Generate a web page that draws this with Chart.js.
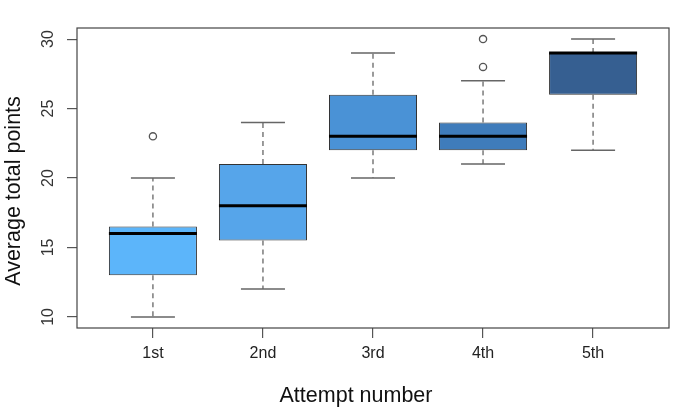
<!DOCTYPE html>
<html lang="en">
<head>
    <meta charset="UTF-8">
    <title>Average total points by attempt</title>
    <script src="https://cdn.jsdelivr.net/npm/chart.js"></script>
    <style>
        body { margin: 0; background: #fff; }
        #wrap { width: 688px; height: 410px; }
    </style>
</head>
<body>
    <div id="wrap">
        <canvas id="myChart" width="688" height="410"></canvas>
    </div>

    <script>
        // Box plot summary per attempt
        const attempts = ['1st', '2nd', '3rd', '4th', '5th'];
        const whiskerLow = [10, 12, 20, 21, 22];
        const q1 = [13, 15.5, 22, 22, 26];
        const median = [16, 18, 23, 23, 29];
        const q3 = [16.5, 21, 26, 24, 29];
        const whiskerHigh = [20, 24, 29, 27, 30];
        const outlierAttempt = [1, 4, 4];
        const outlierValue = [23, 28, 30];
        const yTicks = [10, 15, 20, 25, 30];

        const boxColors = ['#5cb5fa', '#56a5ea', '#4a92d6', '#3f7cbb', '#365f91'];
        const font = '"Liberation Sans", Arial, sans-serif';

        // whiskers, medians, frame, y labels and axis titles
        const boxplotExtras = {
            id: 'boxplotExtras',
            afterDatasetsDraw(chart) {
                const { ctx, scales: { x, y } } = chart;
                const bar = chart.getDatasetMeta(0).data;
                ctx.save();
                attempts.forEach((a, i) => {
                    const cx = x.getPixelForValue(i + 1);
                    const half = bar[i].width / 2;
                    // dashed whiskers
                    ctx.strokeStyle = '#666';
                    ctx.lineWidth = 1.3;
                    ctx.setLineDash([5, 4]);
                    ctx.beginPath();
                    ctx.moveTo(cx, y.getPixelForValue(q3[i]));
                    ctx.lineTo(cx, y.getPixelForValue(whiskerHigh[i]));
                    ctx.moveTo(cx, y.getPixelForValue(q1[i]));
                    ctx.lineTo(cx, y.getPixelForValue(whiskerLow[i]));
                    ctx.stroke();
                    // caps
                    ctx.setLineDash([]);
                    ctx.lineWidth = 1.5;
                    ctx.beginPath();
                    [whiskerHigh[i], whiskerLow[i]].forEach(v => {
                        const py = y.getPixelForValue(v);
                        ctx.moveTo(cx - half / 2, py);
                        ctx.lineTo(cx + half / 2, py);
                    });
                    ctx.stroke();
                    // median
                    ctx.strokeStyle = '#000';
                    ctx.lineWidth = 3;
                    ctx.beginPath();
                    const my = y.getPixelForValue(median[i]);
                    ctx.moveTo(cx - half, my);
                    ctx.lineTo(cx + half, my);
                    ctx.stroke();
                });
                ctx.restore();
            },
            afterDraw(chart) {
                const { ctx, chartArea: area, scales: { y } } = chart;
                ctx.save();
                // plot frame
                ctx.strokeStyle = '#444';
                ctx.lineWidth = 1.2;
                ctx.strokeRect(area.left, area.top, area.right - area.left, area.bottom - area.top);

                // rotated y tick labels
                ctx.fillStyle = '#333';
                ctx.font = '16px ' + font;
                ctx.textAlign = 'center';
                ctx.textBaseline = 'alphabetic';
                yTicks.forEach(v => {
                    ctx.save();
                    ctx.translate(53, y.getPixelForValue(v));
                    ctx.rotate(-Math.PI / 2);
                    ctx.fillText(String(v), 0, 0);
                    ctx.restore();
                });

                // axis titles
                ctx.fillStyle = '#111';
                ctx.font = '21.5px ' + font;
                ctx.fillText('Attempt number', 356, 402);
                ctx.translate(20, 191);
                ctx.rotate(-Math.PI / 2);
                ctx.fillText('Average total points', 0, 0);
                ctx.restore();
            }
        };

        const ctx = document.getElementById('myChart').getContext('2d');
        const chart = new Chart(ctx, {
            type: 'bar',
            data: {
                datasets: [{
                    type: 'bar',
                    label: 'Box',
                    data: attempts.map((a, i) => ({ x: i + 1, y: [q1[i], q3[i]] })),
                    backgroundColor: boxColors,
                    borderColor: '#333',
                    borderWidth: 1,
                    borderSkipped: false,
                    barPercentage: 0.8,
                    categoryPercentage: 1.0
                }, {
                    type: 'scatter',
                    label: 'Outliers',
                    data: outlierAttempt.map((a, i) => ({ x: a, y: outlierValue[i] })),
                    pointStyle: 'circle',
                    pointRadius: 3.6,
                    pointBorderWidth: 1.3,
                    pointBorderColor: '#555',
                    pointBackgroundColor: '#fff'
                }]
            },
            options: {
                responsive: false,
                animation: false,
                layout: { padding: { top: 28, right: 19, left: 0, bottom: 0 } },
                plugins: {
                    legend: { display: false },
                    tooltip: { enabled: false }
                },
                scales: {
                    x: {
                        type: 'linear',
                        min: 0.31,
                        max: 5.69,
                        offset: false,
                        afterBuildTicks: s => { s.ticks = attempts.map((a, i) => ({ value: i + 1 })); },
                        afterFit: s => { s.height = 82; },
                        grid: { offset: false, drawOnChartArea: false, tickLength: 10, color: '#555', lineWidth: 1.2 },
                        border: { display: false },
                        ticks: {
                            font: { family: font, size: 16 },
                            color: '#222',
                            padding: 6,
                            maxRotation: 0,
                            callback: v => attempts[v - 1]
                        }
                    },
                    y: {
                        min: 9.2,
                        max: 30.8,
                        afterBuildTicks: s => { s.ticks = yTicks.map(v => ({ value: v })); },
                        afterFit: s => { s.width = 77; },
                        grid: { drawOnChartArea: false, tickLength: 10, color: '#555', lineWidth: 1.2 },
                        border: { display: false },
                        ticks: { display: false }
                    }
                }
            },
            plugins: [boxplotExtras]
        });
    </script>
</body>
</html>
